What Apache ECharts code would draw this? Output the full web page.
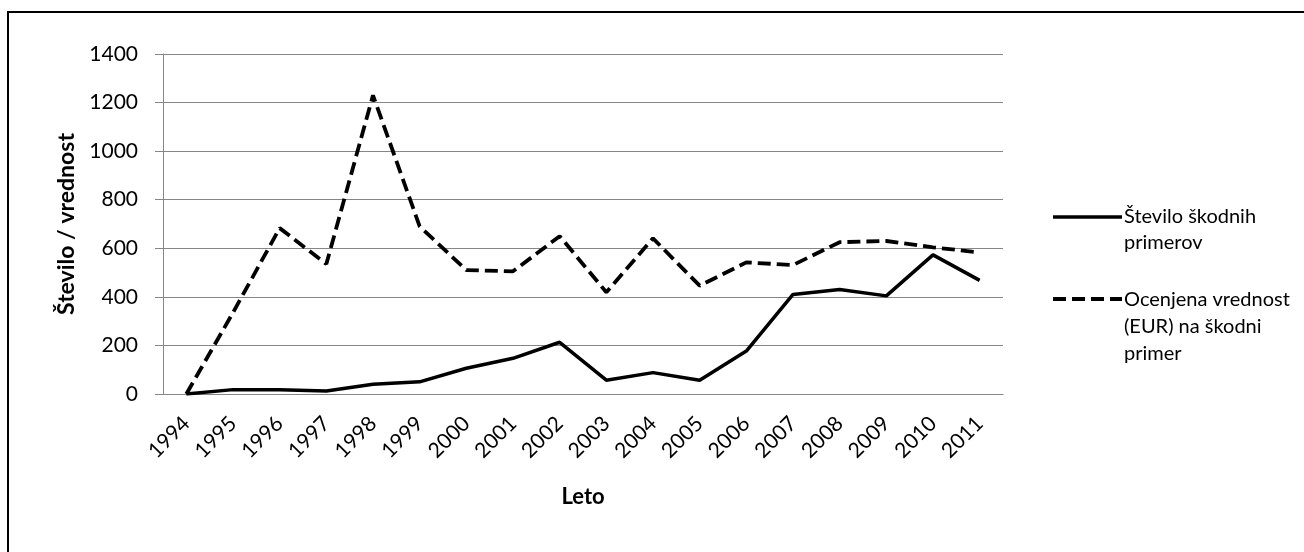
<!DOCTYPE html>
<html>
<head>
<meta charset="utf-8">
<script src="https://cdn.jsdelivr.net/npm/echarts@6/dist/echarts.min.js"></script>
<style>
html,body{margin:0;padding:0;background:#fff;}
#c{width:1304px;height:552px;}
</style>
</head>
<body>
<div id="c"></div>
<script>
var years = ['1994','1995','1996','1997','1998','1999','2000','2001','2002','2003','2004','2005','2006','2007','2008','2009','2010','2011'];
var steviloSkodnih = [0, 18, 18, 12, 40, 50, 106, 147, 213, 57, 88, 57, 177, 410, 430, 404, 573, 468];
var ocenjenaVrednost = [0, 335, 683, 535, 1230, 690, 510, 505, 650, 419, 641, 446, 542, 531, 625, 630, 604, 583];
var yTicks = [0, 200, 400, 600, 800, 1000, 1200, 1400];
var seriesNames = ['Število škodnih primerov', 'Ocenjena vrednost (EUR) na škodni primer'];

var FONT = 'Lato, "Open Sans", "DejaVu Sans", sans-serif';
var chart = echarts.init(document.getElementById('c'), null, {renderer: 'canvas'});
chart.setOption({
  backgroundColor: '#fff',
  animation: false,
  grid: {left: 163, right: 301, top: 54, bottom: 158},
  xAxis: {
    type: 'category',
    data: years,
    boundaryGap: true,
    axisLine: {show: true, lineStyle: {color: '#868686', width: 1}},
    axisTick: {show: false},
    axisLabel: {rotate: 45, margin: 26, color: '#000', fontSize: 21, fontFamily: FONT, interval: 0},
    name: 'Leto',
    nameLocation: 'middle',
    nameGap: 92,
    nameTextStyle: {fontWeight: 'bold', fontSize: 22, color: '#000', fontFamily: FONT}
  },
  yAxis: {
    type: 'value',
    min: yTicks[0],
    max: yTicks[yTicks.length - 1],
    interval: 200,
    axisLine: {show: true, lineStyle: {color: '#868686', width: 1}},
    axisTick: {show: true, inside: false, length: 8, lineStyle: {color: '#868686'}},
    splitLine: {show: true, lineStyle: {color: '#868686', width: 1}},
    axisLabel: {margin: 25, color: '#000', fontSize: 21, fontFamily: FONT, formatter: function (v) { return String(v); }},
    name: 'Število / vrednost',
    nameLocation: 'middle',
    nameRotate: 90,
    nameGap: 84,
    nameTextStyle: {fontWeight: 'bold', fontSize: 23, color: '#000', fontFamily: FONT}
  },
  legend: {show: false},
  series: [
    {
      name: seriesNames[0], type: 'line', data: steviloSkodnih,
      symbol: 'none', lineStyle: {color: '#000', width: 3.5, type: 'solid'}, z: 3
    },
    {
      name: seriesNames[1], type: 'line', data: ocenjenaVrednost,
      symbol: 'none', lineStyle: {color: '#000', width: 3.8, type: [13, 6]}, z: 3
    }
  ],
  graphic: [
    {type: 'rect', shape: {x: 8, y: 12, width: 1400, height: 700}, style: {fill: 'none', stroke: '#000', lineWidth: 2}, silent: true},
    {type: 'line', shape: {x1: 1053, y1: 217, x2: 1122, y2: 217}, style: {stroke: '#000', lineWidth: 3.5}},
    {type: 'text', left: 1124, top: 204, style: {text: 'Število škodnih\nprimerov', font: '20px ' + FONT, fill: '#000', lineHeight: 26}},
    {type: 'line', shape: {x1: 1053, y1: 299, x2: 1122, y2: 299}, style: {stroke: '#000', lineWidth: 3.8, lineDash: [13, 6]}},
    {type: 'text', left: 1124, top: 286, style: {text: 'Ocenjena vrednost\n(EUR) na škodni\nprimer', font: '20px ' + FONT, fill: '#000', lineHeight: 27}}
  ]
});
</script>
</body>
</html>
